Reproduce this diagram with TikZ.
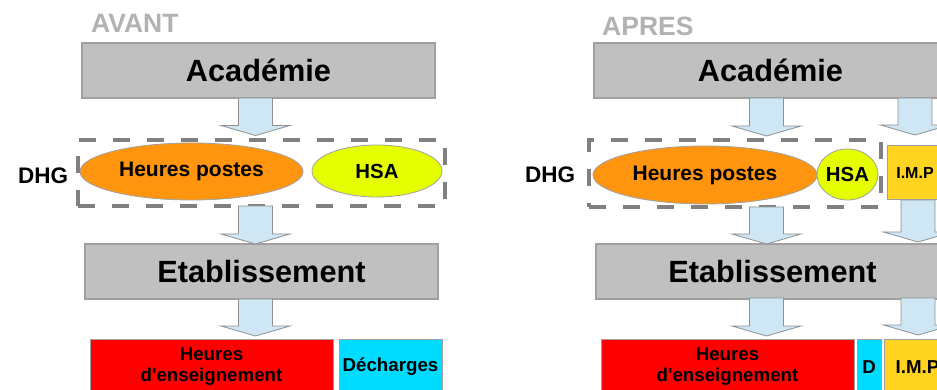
\documentclass[tikz,border=0pt]{standalone}
\usepackage{fontspec}
\setmainfont{Liberation Sans}[Ligatures=TeXOff]
\usetikzlibrary{shapes.geometric,calc}
\definecolor{boxgray}{HTML}{C0C0C0}
\definecolor{edgegray}{HTML}{A0A0A0}
\definecolor{titlegray}{HTML}{B2B2B2}
\definecolor{dashgray}{HTML}{808080}
\definecolor{hporange}{HTML}{FF950E}
\definecolor{hsalime}{HTML}{E6FF00}
\definecolor{arrowblue}{HTML}{CFE7F5}
\definecolor{dcyan}{HTML}{00DCFF}
\definecolor{impgold}{HTML}{FFD320}
\newcommand\fsz[1]{\fontsize{#1}{#1}\selectfont\bfseries}
\newcommand\fszb[2]{\fontsize{#1}{#2}\selectfont\bfseries}
\newcommand\blockarrow[2]{%
  \draw[barrow] let \p1=(#1), \p2=(#2) in
    (\x1-17pt,\y1) -- (\x1+17pt,\y1) -- (\x1+17pt,\y2+10pt) -- (\x1+34.5pt,\y2+10pt)
    -- (\x1,\y2) -- (\x1-34.5pt,\y2+10pt) -- (\x1-17pt,\y2+10pt) -- cycle;}
\tikzset{
  title/.style={anchor=base west, inner sep=0, text=titlegray, font=\fsz{26.5}},
  dhglabel/.style={anchor=base west, inner sep=0, font=\fsz{22.5}},
  bigbox/.style={draw=edgegray, line width=1.2pt, fill=boxgray, inner sep=0, outer sep=0,
    minimum width=353, minimum height=55, font=\fsz{30.7}},
  ellbox/.style={ellipse, draw=edgegray, line width=0.8pt, inner sep=0, outer sep=0},
  dashbox/.style={draw=dashgray, line width=3.5pt, dash pattern=on 17pt off 17pt, inner sep=0},
  barrow/.style={draw=edgegray!90!black, line width=0.8pt, fill=arrowblue},
  lowbox/.style={draw=edgegray, line width=1pt, inner sep=0, outer sep=0, minimum height=56,
    align=center, font=\fszb{18.7}{21}},
}
\begin{document}
\begin{tikzpicture}[x=1pt,y=-1pt]
\useasboundingbox (0,0) rectangle (937,390);
\clip (0,0) rectangle (937,390);
\fill[white] (0,0) rectangle (937,390);

% ---------- AVANT ----------
\node[title] (avant) at (91,33) {AVANT};
\node[bigbox] (acadL) at (258.5,70.5) {Académie};
\node[dhglabel] (dhgLtxt) at (18,184) {DHG};
\node[ellbox, fill=hporange, minimum width=223, minimum height=57, font=\fsz{21}] (hpL) at (191.5,171.5) {Heures postes};
\node[ellbox, fill=hsalime, minimum width=130, minimum height=52, font=\fsz{20.4}] (hsaL) at (377,171) {HSA};
\node[dashbox, minimum width=367, minimum height=66] (dhgL) at (261.5,173) {};
\node[bigbox] (etabL) at (261.5,271.5) {Etablissement};
\node[lowbox, fill=red, minimum width=243] (heL) at (211.5,367) {Heures\\d'enseignement};
\node[lowbox, fill=dcyan, minimum width=103] (decL) at (390.5,367) {Décharges};

\coordinate (aL1s) at (255.5,98);  \coordinate (aL1t) at (255.5,135.5);
\coordinate (aL2s) at (255.5,206); \coordinate (aL2t) at (255.5,244);
\coordinate (aL3s) at (255.5,299); \coordinate (aL3t) at (255.5,336);
\blockarrow{aL1s}{aL1t}
\blockarrow{aL2s}{aL2t}
\blockarrow{aL3s}{aL3t}

% ---------- APRES ----------
\node[title] (apres) at (602,36) {APRES};
\node[bigbox] (acadR) at (770.5,70.5) {Académie};
\node[dhglabel] (dhgRtxt) at (525,183) {DHG};
\node[ellbox, fill=hporange, minimum width=224, minimum height=58, font=\fsz{21}] (hpR) at (705,175) {Heures postes};
\node[ellbox, fill=hsalime, minimum width=61, minimum height=51, font=\fsz{20.4}] (hsaR) at (847.5,174.5) {HSA};
\node[dashbox, minimum width=292, minimum height=67] (dhgR) at (735,173.5) {};
\node[draw=edgegray, line width=1pt, fill=impgold, inner sep=0, minimum width=56, minimum height=54, font=\fsz{16}] (impT) at (915,173) {I.M.P};
\node[bigbox] (etabR) at (772.5,271.5) {Etablissement};
\node[lowbox, fill=red, minimum width=253] (heR) at (727.5,367) {Heures\\d'enseignement};
\node[lowbox, fill=dcyan, minimum width=24] (decR) at (869,367) {D};
\node[lowbox, fill=impgold, minimum width=67] (impB) at (917.5,367) {I.M.P};

\coordinate (aR1s) at (766.5,98);  \coordinate (aR1t) at (766.5,136);
\coordinate (aR2s) at (766.5,207); \coordinate (aR2t) at (766.5,244);
\coordinate (aR3s) at (766.5,298); \coordinate (aR3t) at (766.5,336);
\coordinate (bR1s) at (915,98);    \coordinate (bR1t) at (915,135);
\coordinate (bR2s) at (918,200);   \coordinate (bR2t) at (918,242);
\coordinate (bR3s) at (918,298);   \coordinate (bR3t) at (918,335);
\blockarrow{aR1s}{aR1t}
\blockarrow{aR2s}{aR2t}
\blockarrow{aR3s}{aR3t}
\blockarrow{bR1s}{bR1t}
\blockarrow{bR2s}{bR2t}
\blockarrow{bR3s}{bR3t}
\end{tikzpicture}
\end{document}
